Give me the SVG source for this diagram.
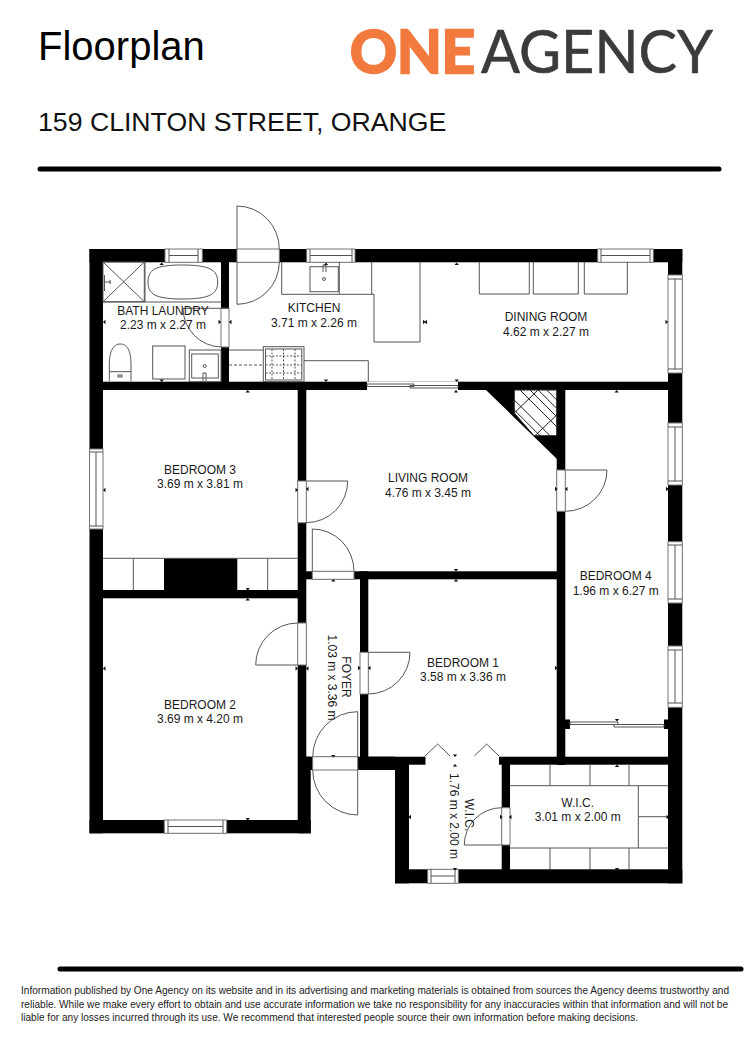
<svg xmlns="http://www.w3.org/2000/svg" width="750" height="1060" viewBox="0 0 750 1060">
<style>
text{font-family:"Liberation Sans",Arial,sans-serif;fill:#1a1a1a}
.r{font-size:12px;text-anchor:middle}
.ft{font-size:10.1px;fill:#222}
.wall{fill:#000}
.win,.gap{fill:#fff;stroke:#777;stroke-width:1}
.ln{fill:none;stroke:#555;stroke-width:1}
.dk{fill:none;stroke:#555;stroke-width:1}
.rule{stroke:#000;stroke-width:5;stroke-linecap:round}
.t{fill:#111}
</style>
<defs>
<path id="t" class="t" d="M-2.2 0L2.2 0L0 -2.6Z"/>
</defs>
<rect width="750" height="1060" fill="#fff"/>

<g id="header">
<text x="38" y="60" font-size="40" style="fill:#000">Floorplan</text>
<text x="38" y="131" font-size="26.67" style="fill:#111">159 CLINTON STREET, ORANGE</text>
<line class="rule" x1="40" y1="169" x2="719" y2="169"/>
</g>

<g id="logo">
<text x="350" y="73" font-size="60" textLength="125" lengthAdjust="spacingAndGlyphs" stroke="#f27a3f" stroke-width="2.6" style="font-family:Lato,'Liberation Sans',sans-serif;fill:#f27a3f;font-weight:700">ONE</text>
<text x="481" y="73" font-size="60" textLength="232" lengthAdjust="spacingAndGlyphs" stroke="#3b3b3b" stroke-width=".6" style="font-family:Lato,'Liberation Sans',sans-serif;fill:#3b3b3b">AGENCY</text>
</g>

<g id="walls" class="wall">
<rect x="89.500" y="249" width="592.800" height="13.300"/>
<rect x="89.500" y="249" width="13.500" height="584.300"/>
<rect x="668" y="249" width="14.300" height="634.300"/>
<rect x="89.500" y="820" width="221.200" height="13.300"/>
<rect x="297.700" y="756.700" width="13" height="76.600"/>
<rect x="103" y="381.700" width="565" height="8.300"/>
<rect x="221" y="262" width="8" height="120"/>
<rect x="103" y="590" width="195" height="8.300"/>
<rect x="297.700" y="390" width="8.600" height="367"/>
<rect x="306" y="571.300" width="251" height="8"/>
<rect x="360" y="571.300" width="8.300" height="186"/>
<rect x="306" y="756.700" width="89" height="13.300"/>
<rect x="368" y="756.700" width="300" height="8"/>
<rect x="556.700" y="390" width="8.600" height="375"/>
<rect x="395" y="764" width="14" height="119.300"/>
<rect x="395" y="869.300" width="287.300" height="14"/>
<rect x="501.700" y="764" width="8.300" height="106"/>
<path d="M486 390H557V459Z"/>
<rect x="164" y="558.300" width="73.300" height="32"/>
</g>

<g id="openings">
<rect class="win" x="165" y="249" width="37.300" height="13.300"/><path class="ln" d="M169 249V262M198 249V262M169 255.500H198"/>
<rect class="win" x="306.700" y="249" width="48.300" height="13.300"/><path class="ln" d="M310 249V262M352 249V262M310 255.500H352"/>
<rect class="win" x="597.700" y="249" width="55.600" height="13.300"/><path class="ln" d="M601 249V262M650 249V262M601 255.500H650"/>
<rect class="win" x="668" y="275" width="14.300" height="98"/><path class="ln" d="M668 279H682M668 369H682M675 279V369"/>
<rect class="win" x="668" y="423" width="14.300" height="62"/><path class="ln" d="M668 427H682M668 481H682M675 427V481"/>
<rect class="win" x="668" y="541.700" width="14.300" height="61.300"/><path class="ln" d="M668 545H682M668 599H682M675 545V599"/>
<rect class="win" x="668" y="646" width="14.300" height="61.300"/><path class="ln" d="M668 650H682M668 703H682M675 650V703"/>
<rect class="win" x="89.500" y="449" width="13.500" height="80"/><path class="ln" d="M89.500 452H103M89.500 526H103M96 452V526"/>
<rect class="win" x="164.300" y="820" width="62.400" height="13.300"/><path class="ln" d="M168 820V833M223 820V833M168 826.500H223"/>
<rect class="win" x="427.700" y="869.300" width="30.600" height="14"/><path class="ln" d="M431 869V883M455 869V883M431 876H455"/>

<rect class="gap" x="221" y="308.300" width="8" height="38.700"/>
<rect class="gap" x="237" y="249" width="42.300" height="13.300"/>
<rect class="gap" x="297.700" y="481" width="8.600" height="41.700"/>
<rect class="gap" x="297.700" y="623" width="8.600" height="42"/>
<rect class="gap" x="312.300" y="571.300" width="41.700" height="8"/>
<rect class="gap" x="360" y="652.300" width="8.300" height="41.700"/>
<rect class="gap" x="556.700" y="470" width="8.600" height="41.300"/>
<rect class="gap" x="312.700" y="756.700" width="45" height="13.300"/>
<rect class="gap" x="501.700" y="807.700" width="8.300" height="37.300"/>
<rect x="425.500" y="755" width="73.500" height="10" fill="#fff"/>
<rect x="367" y="381.700" width="91" height="8.300" fill="#fff"/>
<path class="ln" d="M367 384H414V386.500H367ZM410 385.500H458V388H410Z"/>
<rect x="565" y="719.500" width="5" height="9.500" fill="#000"/>
<rect x="664" y="719.500" width="4" height="9.500" fill="#000"/>
<path class="ln" d="M570 722H618V724.500H570ZM614 724.500H664V727H614Z"/>
</g>

<g id="doors" class="dk">
<path d="M229 308.300H183A39 39 0 0 0 221 347"/>
<path d="M237 249V206A42.300 43 0 0 1 279.300 249"/>
<path d="M237 262V304.300A42.300 42.300 0 0 0 279.300 262"/>
<path d="M306.300 481H347.700A41.500 41.700 0 0 1 306.300 522.700"/>
<path d="M297.700 665H255.700A42 42 0 0 1 297.700 623"/>
<path d="M312.300 571.300V529A41.700 42.300 0 0 1 354 571.300"/>
<path d="M368.300 652.300H410A41.700 41.700 0 0 1 368.300 694"/>
<path d="M565.300 470H607A41.700 41.300 0 0 1 565.300 511.300"/>
<path d="M357.700 757V711.700A45 45.300 0 0 0 312.700 757"/>
<path d="M357.700 770V815A45 45 0 0 1 312.700 770"/>
<path d="M501.700 845H464.300A37.400 37.300 0 0 1 501.700 807.700"/>
<path d="M425 756L437.700 744L450 756M474.300 756L486.700 744L499 756"/>
</g>

<g id="fixtures" class="ln">
<rect x="103" y="262" width="41.300" height="39.700"/>
<path d="M103 262L144.300 301.700M144.300 262L103 301.700"/>
<path d="M104.500 275V291M105 282H111M110 280V284"/>
<path d="M145 262V302H221M145 302H103"/>
<path d="M148 282C148 270 155 265 182 265C210 265 217.700 270 217.700 282C217.700 294 210 299 182 299C155 299 148 294 148 282Z"/>
<path d="M109.300 381V365C109.300 350 114 344 120 344C127 344 131 350 131 365V381M109.300 371.700H131"/>
<rect x="118" y="375" width="4" height="2"/>
<rect x="152.700" y="346" width="32.300" height="33"/>
<rect x="189.300" y="350" width="31.700" height="31.700"/>
<rect x="191.700" y="354" width="26.600" height="24"/>
<circle cx="204.700" cy="366" r="1.500"/>
<path d="M203 381V373H206V381"/>
<path d="M281.700 262V294.300H374V342H420V262M339.300 262V294M371.700 262V294"/>
<rect x="310" y="266.700" width="28.300" height="25"/>
<circle cx="324" cy="279" r="1.500"/>
<path d="M323 272V265H326M326 272V265"/>
<path d="M229 350H263.300"/>
<path d="M229 365H263" stroke-dasharray="3 2"/>
<rect x="263.300" y="346.700" width="40.700" height="35"/>
<rect x="265.500" y="349" width="36.300" height="31"/>
<path d="M265.500 365H302M283.500 349V380M272 349V380M295 349V380M265.500 356H302M265.500 373H302" stroke-dasharray="2 1.500"/>
<path d="M304 360.700H368.300V381.700"/>
<path d="M479.300 262V294H529.300V262M533.300 262V294H578.300V262M584.300 262V294H627.300V262"/>
<path d="M103 558.300H297.700M133.300 558.300V590M267.700 558.300V590"/>
<path d="M510 785.700H668M510 848H668M638.300 785.700V848M638.300 816.700H668M550 764V785.700M590 764V785.700M629 764V785.700M550 848V869M590 848V869M629 848V869"/>
</g>

<g id="hatch" fill="none" stroke="#222" stroke-width="1">
<path d="M514.300 390H556.700V435.700H534L514.300 413Z" fill="#fff"/>
<path d="M520 390L556.700 426.700M530 390L556.700 416.700M538.300 390L556.700 408.400M546.700 390L556.700 400M514.300 400L550 435.700M514.300 410L540 435.700M514.300 413L538 390M535 435.700L556.700 415"/>
</g>

<g id="ticks">
<use href="#t" transform="translate(161.700 265)"/>
<use href="#t" transform="translate(161.700 379.500) rotate(180)"/>
<use href="#t" transform="translate(326 265)"/>
<use href="#t" transform="translate(326 379.500) rotate(180)"/>
<use href="#t" transform="translate(456.700 265)"/>
<use href="#t" transform="translate(456.700 379.500) rotate(180)"/>
<use href="#t" transform="translate(247.700 392.500)"/>
<use href="#t" transform="translate(456 392.500)"/>
<use href="#t" transform="translate(616.700 392.500)"/>
<use href="#t" transform="translate(105.500 322) rotate(-90)"/>
<use href="#t" transform="translate(218.500 322) rotate(90)"/>
<use href="#t" transform="translate(231.500 322) rotate(-90)"/>
<use href="#t" transform="translate(423 322) rotate(90)"/>
<use href="#t" transform="translate(427 322) rotate(-90)"/>
<use href="#t" transform="translate(665.500 322) rotate(90)"/>
<use href="#t" transform="translate(105.500 490) rotate(-90)"/>
<use href="#t" transform="translate(295.500 490) rotate(90)"/>
<use href="#t" transform="translate(308.500 489) rotate(-90)"/>
<use href="#t" transform="translate(555 489) rotate(90)"/>
<use href="#t" transform="translate(567.500 489) rotate(-90)"/>
<use href="#t" transform="translate(666 489) rotate(90)"/>
<use href="#t" transform="translate(247.700 588) rotate(180)"/>
<use href="#t" transform="translate(247.700 600.500)"/>
<use href="#t" transform="translate(333.300 581.500)"/>
<use href="#t" transform="translate(456 569) rotate(180)"/>
<use href="#t" transform="translate(456 581.500)"/>
<use href="#t" transform="translate(105.500 668.500) rotate(-90)"/>
<use href="#t" transform="translate(295.500 668.500) rotate(90)"/>
<use href="#t" transform="translate(308.500 668.500) rotate(-90)"/>
<use href="#t" transform="translate(358 668) rotate(90)"/>
<use href="#t" transform="translate(370.500 668) rotate(-90)"/>
<use href="#t" transform="translate(555 668) rotate(90)"/>
<use href="#t" transform="translate(247.700 818) rotate(180)"/>
<use href="#t" transform="translate(333.300 755) rotate(180)"/>
<use href="#t" transform="translate(617 719) rotate(180)"/>
<use href="#t" transform="translate(617 767)"/>
<use href="#t" transform="translate(455 754.500) rotate(180)"/>
<use href="#t" transform="translate(455 766.500)"/>
<use href="#t" transform="translate(455 868) rotate(180)"/>
<use href="#t" transform="translate(617 868) rotate(180)"/>
<use href="#t" transform="translate(411 817) rotate(-90)"/>
<use href="#t" transform="translate(500 817) rotate(90)"/>
<use href="#t" transform="translate(511.500 817) rotate(-90)"/>
<use href="#t" transform="translate(666.500 817) rotate(90)"/>
</g>

<g id="labels">
<text class="r" x="163" y="315">BATH LAUNDRY</text><text class="r" x="163" y="329">2.23 m x 2.27 m</text>
<text class="r" x="314" y="312">KITCHEN</text><text class="r" x="314" y="327">3.71 m x 2.26 m</text>
<text class="r" x="546" y="321">DINING ROOM</text><text class="r" x="546" y="336">4.62 m x 2.27 m</text>
<text class="r" x="428" y="482">LIVING ROOM</text><text class="r" x="428" y="497">4.76 m x 3.45 m</text>
<text class="r" x="200" y="474">BEDROOM 3</text><text class="r" x="200" y="488">3.69 m x 3.81 m</text>
<text class="r" x="200" y="709">BEDROOM 2</text><text class="r" x="200" y="723">3.69 m x 4.20 m</text>
<text class="r" x="463" y="667">BEDROOM 1</text><text class="r" x="463" y="681">3.58 m x 3.36 m</text>
<text class="r" x="615.700" y="580">BEDROOM 4</text><text class="r" x="615.700" y="595">1.96 m x 6.27 m</text>
<text class="r" x="577.700" y="807">W.I.C.</text><text class="r" x="577.700" y="821">3.01 m x 2.00 m</text>
<text class="r" transform="translate(342 677) rotate(90)">FOYER</text>
<text class="r" transform="translate(328 677.500) rotate(90)">1.03 m x 3.36 m</text>
<text class="r" transform="translate(465 815) rotate(90)">W.I.C.</text>
<text class="r" transform="translate(450 816) rotate(90)">1.76 m x 2.00 m</text>
</g>

<g id="footer">
<line class="rule" x1="60" y1="969" x2="741" y2="969"/>
<text class="ft" x="21" y="994" textLength="708" lengthAdjust="spacingAndGlyphs">Information published by One Agency on its website and in its advertising and marketing materials is obtained from sources the Agency deems trustworthy and</text>
<text class="ft" x="21" y="1007.500" textLength="707" lengthAdjust="spacingAndGlyphs">reliable. While we make every effort to obtain and use accurate information we take no responsibility for any inaccuracies within that information and will not be</text>
<text class="ft" x="21" y="1021" textLength="617" lengthAdjust="spacingAndGlyphs">liable for any losses incurred through its use. We recommend that interested people source their own information before making decisions.</text>
</g>
</svg>
